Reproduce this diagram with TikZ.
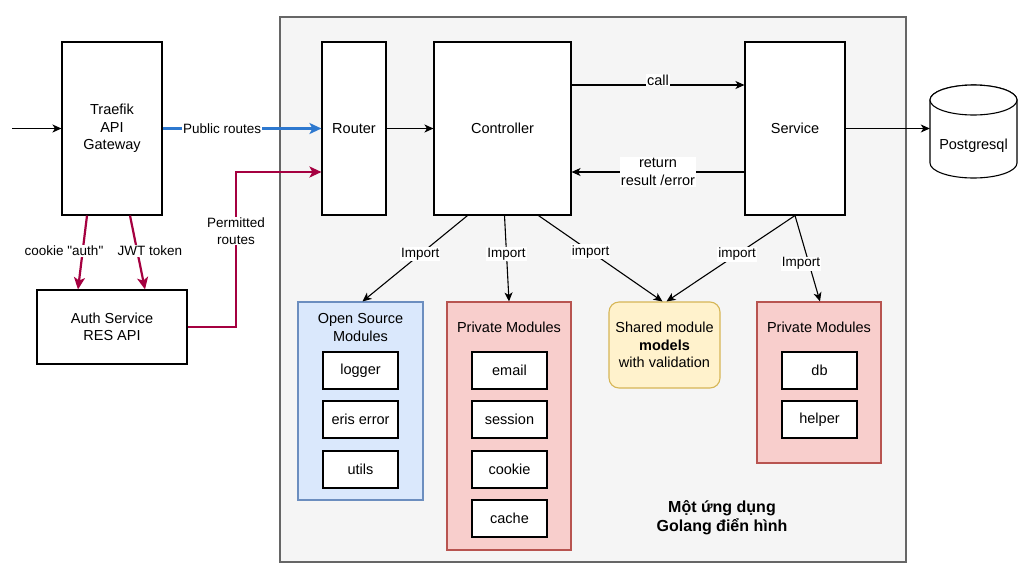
\documentclass[tikz,border=0pt]{standalone}
\usepackage{fontspec}
\setmainfont{Liberation Sans}
\newfontfamily\plainsans{Liberation Sans}
\usetikzlibrary{arrows.meta,calc}
\definecolor{contfill}{HTML}{F5F5F5}
\definecolor{contline}{HTML}{666666}
\definecolor{bluefill}{HTML}{DAE8FC}
\definecolor{blueline}{HTML}{6C8EBF}
\definecolor{redfill}{HTML}{F8CECC}
\definecolor{redline}{HTML}{B85450}
\definecolor{yelfill}{HTML}{FFF2CC}
\definecolor{yelline}{HTML}{D6B656}
\definecolor{crimson}{HTML}{A50040}
\definecolor{pubblue}{HTML}{2D78CF}
\tikzset{
  box/.style 2 args={draw=black, fill=white, line width=1.1pt, inner sep=0pt, align=center,
    minimum width=#1pt, minimum height=#2pt},
  grp/.style n args={4}{draw=#2, fill=#1, line width=1.1pt, inner sep=0pt,
    minimum width=#3pt, minimum height=#4pt},
  arr/.style={-{Stealth[length=9pt,width=8pt,inset=2.5pt]}, line width=1.1pt, black},
  redarr/.style={-{Stealth[length=12pt,width=11pt,inset=3pt]}, line width=2.2pt, crimson},
  bluearr/.style={-{Stealth[length=12pt,width=11pt,inset=3pt]}, line width=2.2pt, pubblue},
  lbl/.style={fill=white, text=black, inner sep=1pt, align=center, font=\fontsize{13.5}{16.5}\selectfont},
  biglbl/.style={fill=white, text=black, inner sep=1pt, align=center},
  txt/.style={align=center, inner sep=0pt}
}
\begin{document}
\begin{tikzpicture}[x=1pt,y=-1pt,font=\fontsize{14.5}{17.5}\selectfont]
\useasboundingbox[fill=white] (0,0) rectangle (1024,573);

% container
\node[grp={contfill}{contline}{626}{545}] (app) at (593,289.5) {};
\node[txt,font=\fontsize{16}{19}\selectfont\bfseries] (title) at (722,518) {Một ứng dụng\\Golang điển hình};

% outer nodes
\node[box={100}{173}] (traefik) at (112,128.5) {Traefik\\API\\Gateway};
\node[box={150}{74}] (auth) at (112,327) {Auth Service\\RES API};

% main nodes
\node[box={64}{173}] (router) at (354,128.5) {Router};
\node[box={137}{173}] (controller) at (502.5,128.5) {Controller};
\node[box={100}{173}] (service) at (795,128.5) {Service};

% postgres cylinder
\node[minimum width=87pt, minimum height=93pt, inner sep=0pt] (pg) at (973.5,131.5) {};
\draw[line width=1.1pt, fill=white] (930,100) -- (930,163)
  arc[start angle=180, end angle=360, x radius=43.5pt, y radius=15pt] -- (1017,100)
  arc[start angle=0, end angle=180, x radius=43.5pt, y radius=15pt] -- cycle;
\draw[line width=1.1pt, fill=white] (973.5,100) ellipse[x radius=43.5pt, y radius=15pt];
\node[txt] (pgtext) at (973.5,146) {Postgresql};

% module groups
\node[grp={bluefill}{blueline}{125}{198}] (osm) at (360.5,401) {};
\node[txt] (osmt) at (360.5,327.5) {Open Source\\Modules};
\node[box={75}{37}] (logger) at (360.5,370.5) {logger};
\node[box={75}{37}] (eris) at (360.5,419.5) {eris error};
\node[box={75}{37}] (utils) at (360.5,469.5) {utils};

\node[grp={redfill}{redline}{124}{248}] (pm1) at (509,426) {};
\node[txt] (pm1t) at (509,327) {Private Modules};
\node[box={75}{37}] (email) at (509.5,370.5) {email};
\node[box={75}{37}] (session) at (509.5,419.5) {session};
\node[box={75}{37}] (cookie) at (509.5,469.5) {cookie};
\node[box={75}{37}] (cache) at (509.5,518.5) {cache};

\node[draw=yelline, fill=yelfill, line width=1.1pt, rounded corners=10pt, inner sep=0pt,
  minimum width=111pt, minimum height=86pt, align=center] (shared) at (664.5,345)
  {Shared module\\\textbf{models}\\with validation};

\node[grp={redfill}{redline}{124}{161}] (pm2) at (819,382.5) {};
\node[txt] (pm2t) at (819,327) {Private Modules};
\node[box={75}{37}] (db) at (819.5,370.5) {db};
\node[box={75}{37}] (helper) at (819.5,419.5) {helper};

% connectors
\coordinate (in) at (12,128.5);
\draw[arr] (in) -- (traefik.west);
\draw[bluearr] (traefik.east) -- node[lbl,pos=0.375]{Public routes} (router.west);
\draw[redarr] (auth.east) -| (236,172) -- (router.west |- 0,172);
\node[lbl] (perm) at (236,231) {Permitted\\routes};
\draw[redarr] ($(traefik.south)+(-25,0)$) -- ($(auth.north)+(-34,0)$);
\draw[redarr] ($(traefik.south)+(18,0)$) -- ($(auth.north)+(33,0)$);
\node[lbl] (cookielbl) at (64,251) {\plainsans cookie "auth"};
\node[lbl] (jwtlbl) at (150,251) {JWT token};

\draw[arr] (router.east) -- (controller.west);
\draw[arr] ($(controller.east)+(0,-43.5)$) -- node[biglbl,yshift=5pt]{call} ($(service.west)+(0,-43.5)$);
\draw[arr] ($(service.west)+(0,43.5)$) -- node[biglbl]{return\\result /error} ($(controller.east)+(0,43.5)$);
\draw[arr] (service.east) -- (pg.west |- service.east);

\draw[arr] ($(controller.south)+(-35,0)$) -- node[lbl,pos=0.45]{Import} ($(osm.north)+(2,0)$);
\draw[arr] ($(controller.south)+(2,0)$) -- node[lbl,pos=0.45]{Import} (pm1.north);
\draw[arr] ($(controller.south)+(36,0)$) -- node[lbl,pos=0.42]{import} ($(shared.north)+(-2,0)$);
\draw[arr] (service.south) -- node[lbl,pos=0.45]{import} ($(shared.north)+(2,0)$);
\draw[arr] (service.south) -- node[lbl,pos=0.56,xshift=-8pt]{Import} ($(pm2.north)+(1,0)$);
\end{tikzpicture}
\end{document}
